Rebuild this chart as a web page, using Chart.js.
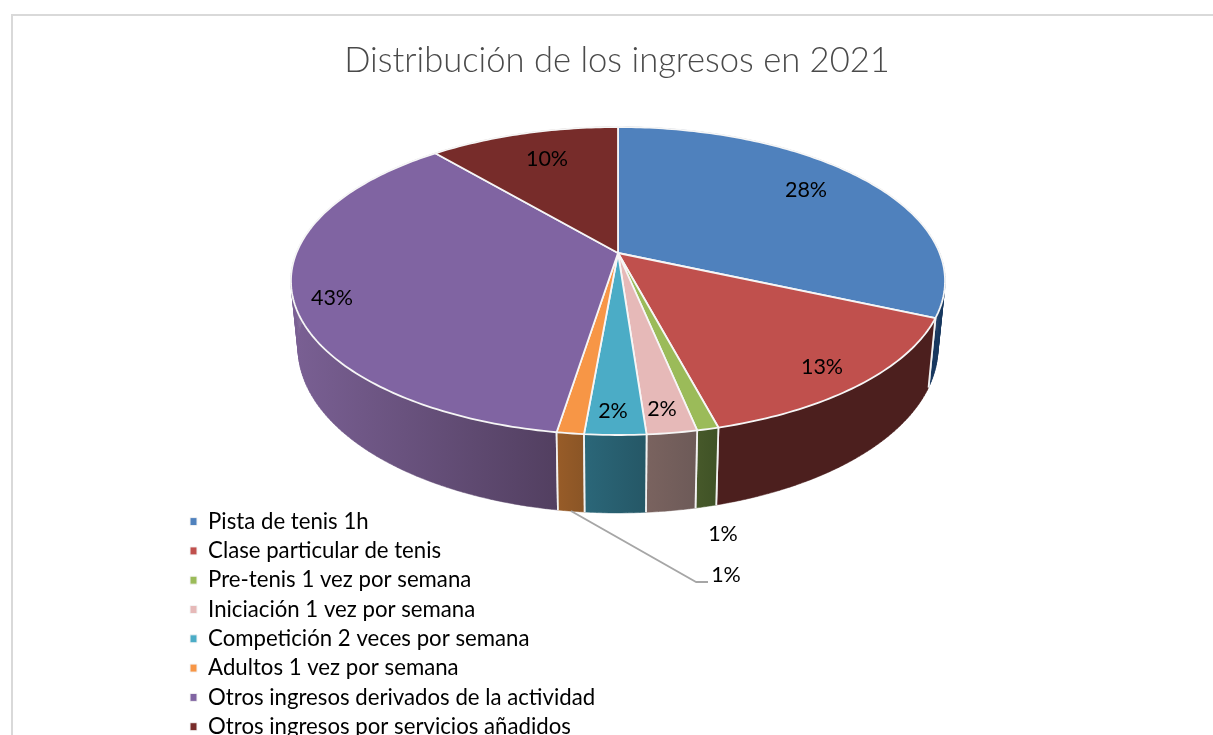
<!DOCTYPE html>
<html><head><meta charset="utf-8">
<style>html,body{margin:0;padding:0;background:#fff;overflow:hidden}canvas{display:block}</style>
<script src="https://cdn.jsdelivr.net/npm/chart.js@4"></script>
</head><body><canvas id="c" width="1213" height="735"></canvas>
<script>
const categories = ["Pista de tenis 1h","Clase particular de tenis","Pre-tenis 1 vez por semana","Iniciación 1 vez por semana","Competición 2 veces por semana","Adultos 1 vez por semana","Otros ingresos derivados de la actividad","Otros ingresos por servicios añadidos"];
const shares = [27.9,13.2,0.8,1.85,2.25,1,42.7,10.3];
const topColors = ["#4f81bd","#c0504d","#9bbb59","#e6b9b8","#4bacc6","#f79646","#8064a2","#772c2a"];
const wallLeft = ["#17375e","#4c1f1e","#47592a","#7a635f","#2b6779","#985c28","#7a6094","#4c1f1e"];
const wallRight = ["#17375e","#4c1f1e","#3f5226","#6d5a58","#255766","#8a5526","#523f60","#4c1f1e"];
const titleText = "Distribución de los ingresos en 2021";

// perspective of the disc: top face and bottom rim
const K = 0.1818, CX = 618;
const TOP = {cy:253, A:321.6, B:148.9};
const BOT = {cy:318, A:314.6, B:159.5};
const FONT = 'Lato, Carlito, sans-serif';
// Drawn angle: the reference's 3D view stretches the front of the disc
function warp(t){
  const a=10.5*Math.PI/180,b=2.5*Math.PI/180,c=4*Math.PI/180;
  return t + a*(1-Math.cos(t)) + b*Math.sin(t) + c*Math.sin(2*t);
}
function proj(ring,t,r=1){
  const x=r*Math.sin(t), y=-r*Math.cos(t), w=1-K*y;
  return [CX+ring.A*x/w, ring.cy+ring.B*y/w];
}
// data label anchors in the page (top-left origin), kept apart from the values
const labelAnchors = [[806,190],[822,367],[723,534],[662,409],[613,411],[726,575],[332,298],[547,159]];

const pie3d = {
  id:'pie3d',
  afterLayout(chart){
    const l=chart.legend;
    l.left=190-7.1; l.right=700; l.top=510.5-7.1; l.bottom=1000;
    const t=chart.titleBlock;
    t.left=21; t.right=1213; t.top=40; t.bottom=t.top+t.height;
  },
  beforeDraw(chart){
    const ctx=chart.ctx;
    ctx.save();
    ctx.strokeStyle='#d9d9d9'; ctx.lineWidth=2;
    ctx.beginPath(); ctx.moveTo(12,735); ctx.lineTo(12,15); ctx.lineTo(1213,15); ctx.stroke();
    ctx.restore();
  },
  beforeDatasetDraw(chart,args){
    const ctx=chart.ctx, meta=args.meta;
    const arcs=meta.data.map((el,i)=>{
      const s=warp(el.startAngle+Math.PI/2), e=warp(el.endAngle+Math.PI/2);
      return {i,s,e,mid:(s+e)/2};
    });
    const angles=(s,e)=>{
      const n=Math.max(4,Math.ceil((e-s)*60)), out=[];
      for(let k=0;k<=n;k++){out.push(s+(e-s)*k/n);}
      return out;
    };
    const line=(pts,close)=>{
      ctx.beginPath(); pts.forEach((p,k)=>k?ctx.lineTo(p[0],p[1]):ctx.moveTo(p[0],p[1]));
      if(close)ctx.closePath();
    };
    ctx.save();
    ctx.lineJoin='round';
    // walls, back to front
    [...arcs].sort((a,b)=>proj(BOT,a.mid)[1]-proj(BOT,b.mid)[1]).forEach(a=>{
      const as=angles(a.s,a.e);
      const T=as.map(t=>proj(TOP,t)), B=as.map(t=>proj(BOT,t));
      const xs=T.concat(B).map(p=>p[0]);
      const g=ctx.createLinearGradient(Math.min(...xs),0,Math.max(...xs),0);
      g.addColorStop(0,wallLeft[a.i]); g.addColorStop(1,wallRight[a.i]);
      ctx.fillStyle=g; ctx.strokeStyle=g; ctx.lineWidth=0.5;
      ctx.beginPath();
      for(let k=0;k<as.length-1;k++){
        const q=[T[k],T[k+1],B[k+1],B[k]];
        q.forEach((p,m)=>m?ctx.lineTo(p[0],p[1]):ctx.moveTo(p[0],p[1]));
        ctx.closePath();
      }
      ctx.fill('nonzero'); ctx.stroke();
      ctx.strokeStyle='#f2f2f2'; ctx.lineWidth=1.8;
      line([T[0],B[0]]); ctx.stroke();
      line([T[T.length-1],B[B.length-1]]); ctx.stroke();
    });
    // top faces
    arcs.forEach(a=>{
      const pts=angles(a.s,a.e).map(t=>proj(TOP,t));
      line([[CX,TOP.cy],...pts],true);
      ctx.fillStyle=topColors[a.i]; ctx.fill();
      ctx.strokeStyle='#f6f6f6'; ctx.lineWidth=1.8; ctx.stroke();
    });
    // leader line of the Adultos label
    ctx.strokeStyle='#a6a6a6'; ctx.lineWidth=2;
    line([[571,511],[696,582],[708,582]]); ctx.stroke();
    // data labels
    ctx.fillStyle='#000'; ctx.font='21.5px '+FONT; ctx.textAlign='center'; ctx.textBaseline='middle';
    shares.forEach((v,i)=>ctx.fillText(Math.round(v)+'%',labelAnchors[i][0],labelAnchors[i][1]));
    ctx.restore();
    return false;
  }
};

new Chart(document.getElementById('c'),{
  type:'pie',
  data:{labels:categories,datasets:[{data:shares,backgroundColor:topColors,borderColor:'#f4f4f4',borderWidth:1}]},
  plugins:[pie3d],
  options:{
    responsive:false,animation:false,
    layout:{padding:0},
    plugins:{
      tooltip:{enabled:false},
      title:{display:true,text:titleText,color:'#4a4a4a',font:{family:FONT,size:34.6,weight:'300'},padding:0,align:'center'},
      legend:{display:true,position:'left',align:'start',
        labels:{boxWidth:7,boxHeight:8,padding:7.1,color:'#000',font:{family:FONT,size:22.2}}}
    }
  }
});
</script></body></html>
